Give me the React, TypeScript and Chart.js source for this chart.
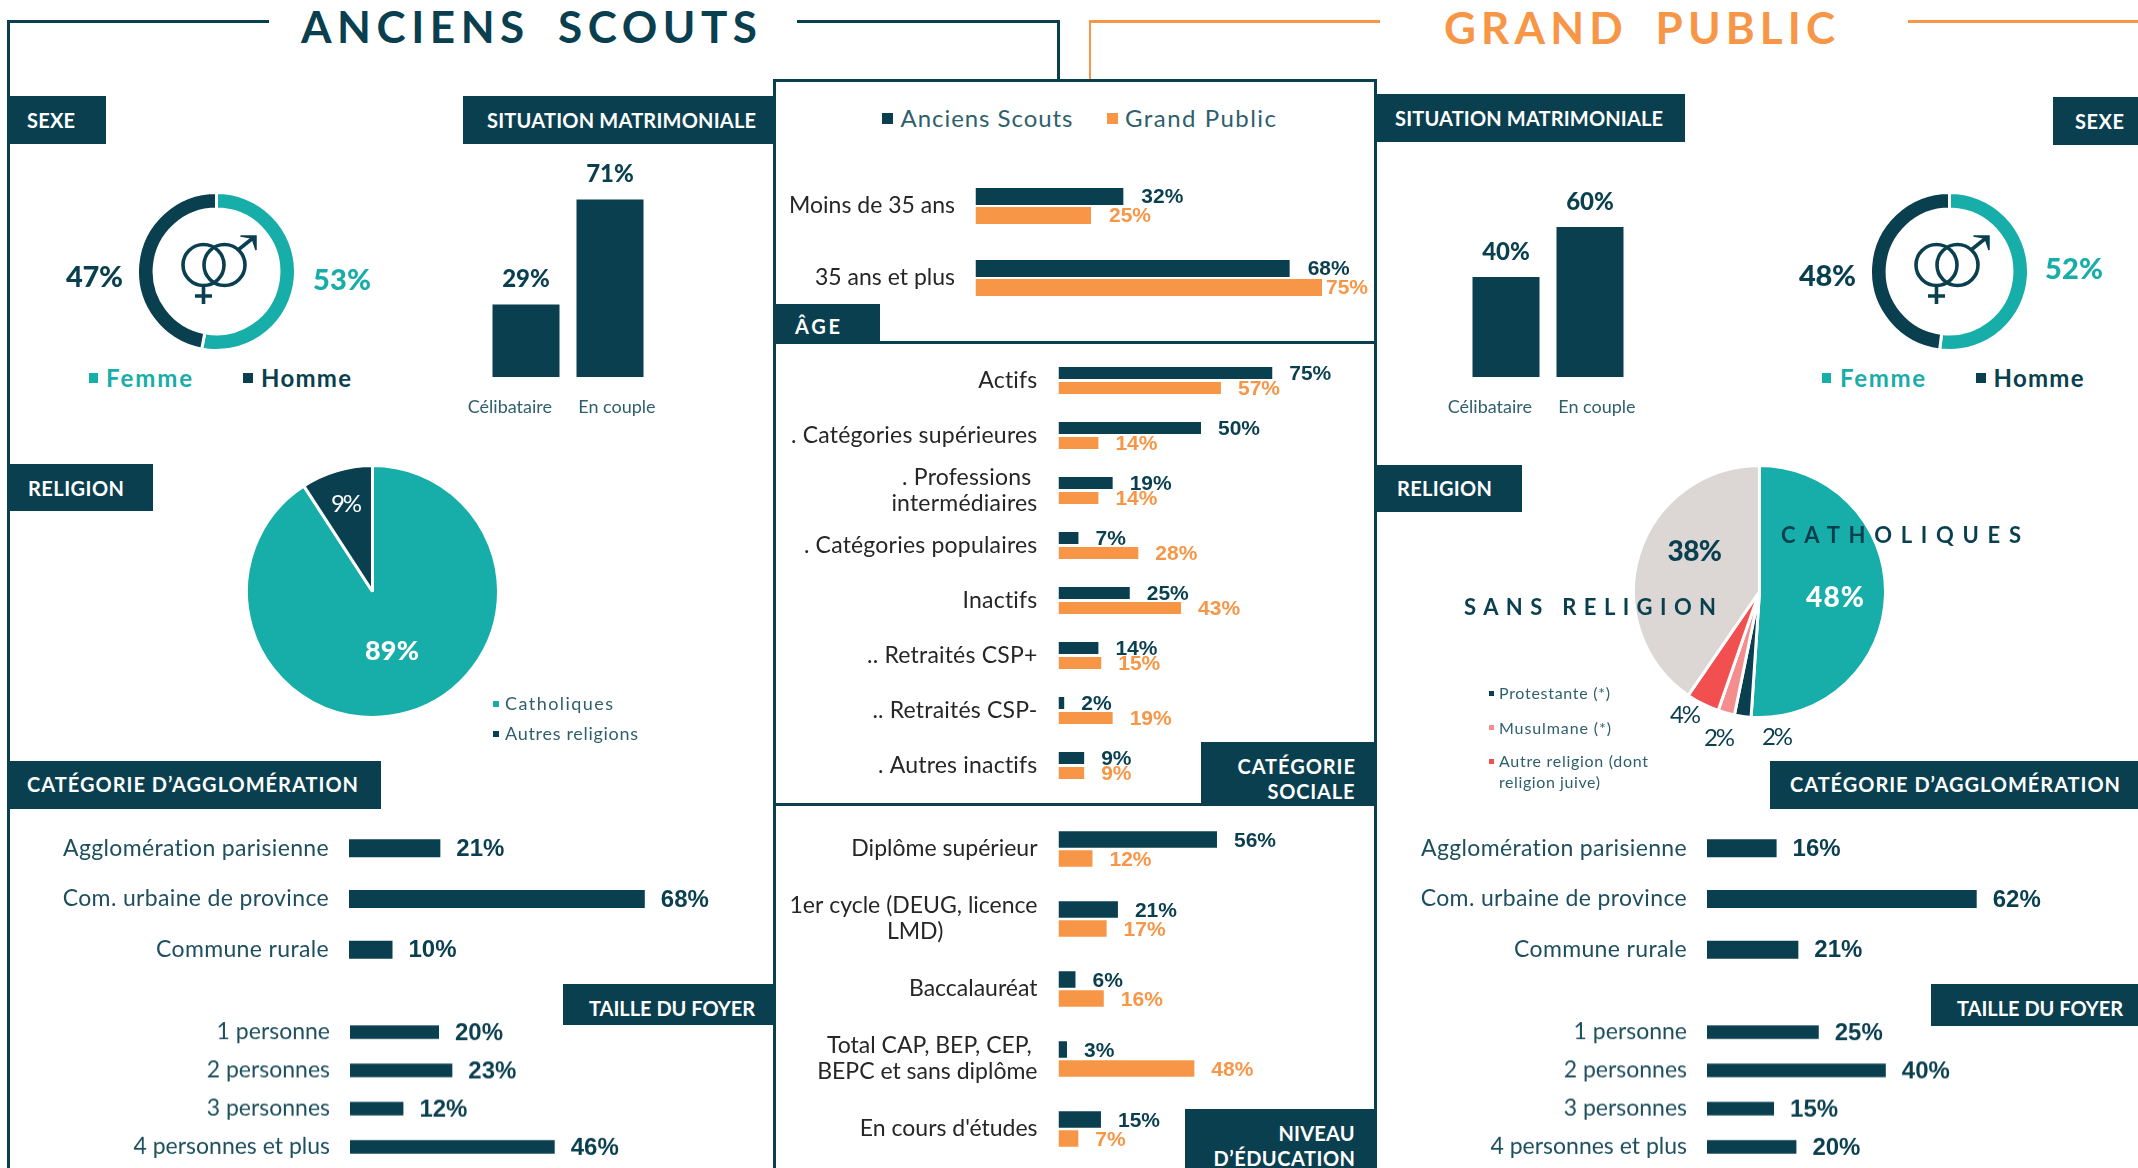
import React, { useEffect, useRef } from "react";
import { Chart, registerables } from "chart.js";
Chart.register(...registerables);

const DARK = "#0A3F4F";
const TEAL = "#17ADA8";
const ORANGE = "#F79646";
const PINK = "#F48D8D";
const RED = "#F25050";
const GREY = "#DCD7D5";
const INK = "#262626";
const SOFT = "#2F5F6D";
const TICK = "#1D4F5E";
const GEO = "Lato";
const ARIAL = "'Liberation Sans'";

// ---------- data
const sexeLabels = ["Femme", "Homme"];
const sexeScouts = [53, 47];
const sexePublic = [52, 48];
const matriLabels = ["Célibataire", "En couple"];
const matriScouts = [29, 71];
const matriPublic = [40, 60];
const religionScoutsLabels = ["Catholiques", "Autres religions"];
const religionScouts = [89, 9];
const religionPublicLabels = ["Catholiques", "Protestante (*)", "Musulmane (*)", "Autre religion (dont religion juive)", "Sans religion"];
const religionPublic = [48, 2, 2, 4, 38];
const agglomLabels = ["Agglomération parisienne", "Com. urbaine de province", "Commune rurale"];
const agglomScouts = [21, 68, 10];
const agglomPublic = [16, 62, 21];
const foyerLabels = ["1 personne", "2 personnes", "3 personnes", "4 personnes et plus"];
const foyerScouts = [20, 23, 12, 46];
const foyerPublic = [25, 40, 15, 20];
const ageLabels = ["Moins de 35 ans", "35 ans et plus"];
const ageScouts = [32, 68];
const agePublic = [25, 75];
const socialLabels: (string | string[])[] = ["Actifs", ". Catégories supérieures", [". Professions", "intermédiaires"], ". Catégories populaires", "Inactifs", ".. Retraités CSP+", ".. Retraités CSP-", ". Autres inactifs"];
const socialScouts = [75, 50, 19, 7, 25, 14, 2, 9];
const socialPublic = [57, 14, 14, 28, 43, 15, 19, 9];
const eduLabels: (string | string[])[] = ["Diplôme supérieur", ["1er cycle (DEUG, licence", "LMD)"], "Baccalauréat", ["Total CAP, BEP, CEP,", "BEPC et sans diplôme"], "En cours d'études"];
const eduScouts = [56, 21, 6, 3, 15];
const eduPublic = [12, 17, 16, 48, 7];

// ---------- helpers
const NBSP = "\u00A0";
const measureCtx = document.createElement("canvas").getContext("2d")!;
function textWidth(text: string, font: string) {
  measureCtx.font = font;
  return measureCtx.measureText(text).width;
}
function pad(width: number, font: string) {
  const n = Math.max(0, Math.round(width / textWidth(NBSP, font)));
  return NBSP.repeat(n);
}

function T({ text, x, y, w, size, weight = 400, color = DARK, family = GEO, wordGap = 0 }: any) {
  const font = `${weight} ${size}px ${family}`;
  const natural = textWidth(text, font);
  const ls = w && text.length > 1 ? (w - natural - wordGap) / (text.length - 1) : 0;
  return (
    <div
      style={{
        position: "absolute",
        left: x,
        top: y - size,
        height: size * 2,
        lineHeight: `${size * 2}px`,
        fontFamily: family,
        fontSize: size,
        fontWeight: weight,
        color,
        letterSpacing: ls,
        wordSpacing: wordGap,
        whiteSpace: "pre",
      }}
    >
      {text}
    </div>
  );
}
function Box({ x, y, w, h, color = DARK }: any) {
  return <div style={{ position: "absolute", left: x, top: y, width: w, height: h, background: color }} />;
}

function useChart(ref: any, make: () => any) {
  useEffect(() => {
    const chart = new Chart(ref.current, make());
    return () => chart.destroy();
  }, []);
}

const valueLabels = {
  id: "valueLabels",
  afterDatasetsDraw(chart: any, _a: any, o: any) {
    if (!o.font) return;
    const ctx = chart.ctx;
    ctx.save();
    ctx.font = o.font;
    ctx.textBaseline = "middle";
    chart.data.datasets.forEach((ds: any, di: number) => {
      chart.getDatasetMeta(di).data.forEach((bar: any, i: number) => {
        ctx.fillStyle = ds.labelColor || ds.backgroundColor;
        const text = `${ds.data[i]}%`;
        if (o.vertical) {
          ctx.textAlign = "center";
          ctx.fillText(text, bar.x, bar.y + o.dy);
        } else {
          ctx.textAlign = "left";
          const dx = o.dxFor && o.dxFor[di] && o.dxFor[di][i] != null ? o.dxFor[di][i] : o.dx;
          ctx.fillText(text, bar.x + dx, bar.y + o.dy);
        }
      });
    });
    ctx.restore();
  },
};

function HBar({ labels, series, left, right, base, pxPer, top, pitch, barH, gap = 0, labelRight, tickColor = TICK, tickSize = 23, tickLine = 26, valueSize = 24, valueDx = 16, valueDy = 1, dxFor, tickSpacing = 0 }: any) {
  const ref = useRef<HTMLCanvasElement>(null);
  const width = right - left;
  const height = labels.length * pitch;
  useChart(ref, () => {
    const font = `${tickSize}px ${GEO}`;
    const unit = barH + gap;
    return {
      type: "bar",
      data: {
        labels,
        datasets: series.map((s: any) => ({ data: s.values, backgroundColor: s.color, borderWidth: 0 })),
      },
      options: {
        indexAxis: "y",
        animation: false,
        responsive: false,
        events: [],
        layout: { padding: 0, autoPadding: false },
        datasets: { bar: { categoryPercentage: (unit * series.length) / pitch, barPercentage: barH / unit } },
        scales: {
          x: { display: false, min: 0, max: (right - base) / pxPer },
          y: {
            grid: { display: false, drawTicks: false },
            border: { display: false },
            afterFit: (a: any) => {
              a.width = base - left;
              a.paddingTop = 0;
              a.paddingBottom = 0;
            },
            ticks: {
              color: tickColor,
              autoSkip: false,
              padding: base - labelRight,
              font: { family: GEO, size: tickSize, lineHeight: `${tickLine}px` },
              callback: (_v: any, i: number) => {
                const l = labels[i];
                if (!Array.isArray(l)) return l;
                const widest = Math.max(...l.map((s: string) => textWidth(s, font)));
                return l.map((s: string) => s + pad((widest - textWidth(s, font)) / 2, font));
              },
            },
          },
        },
        plugins: {
          legend: { display: false },
          tooltip: { enabled: false },
          valueLabels: { font: `bold ${valueSize}px ${ARIAL}`, dx: valueDx, dy: valueDy, dxFor },
        },
      },
      plugins: [
        valueLabels,
        { id: "spacing", beforeDraw(c: any) { if (tickSpacing) c.ctx.letterSpacing = `${tickSpacing}px`; }, beforeDatasetsDraw(c: any) { c.ctx.letterSpacing = "0px"; } },
      ],
    };
  });
  return <canvas ref={ref} width={width} height={height} style={{ position: "absolute", left, top, width, height, display: "block" }} />;
}

function VBar({ left, pitch, bars, values, shift }: any) {
  const ref = useRef<HTMLCanvasElement>(null);
  const sidePad = 40;
  const top = 150;
  const areaH = 227;
  const width = pitch * 2 + sidePad * 2;
  const height = areaH + 50;
  useChart(ref, () => {
    const font = `18px ${GEO}`;
    return {
      type: "bar",
      data: { labels: matriLabels, datasets: [{ data: values, backgroundColor: DARK, borderWidth: 0 }] },
      options: {
        animation: false,
        responsive: false,
        events: [],
        layout: { padding: { left: sidePad, right: sidePad, top: 0, bottom: 0 }, autoPadding: false },
        datasets: { bar: { categoryPercentage: bars / pitch, barPercentage: 1 } },
        scales: {
          y: { display: false, min: 0, max: areaH / 2.5 },
          x: {
            grid: { display: false, drawTicks: false },
            border: { display: false },
            afterFit: (a: any) => {
              a.height = 50;
              a.paddingLeft = 0;
              a.paddingRight = 0;
            },
            ticks: {
              color: SOFT,
              autoSkip: false,
              maxRotation: 0,
              padding: 19,
              font: { family: GEO, size: 18 },
              callback: (_v: any, i: number) => {
                const s = matriLabels[i];
                const dx = shift[i];
                return dx < 0 ? s + pad(-2 * dx, font) : pad(2 * dx, font) + s;
              },
            },
          },
        },
        plugins: {
          legend: { display: false },
          tooltip: { enabled: false },
          valueLabels: { font: `900 24px ${GEO}`, vertical: true, dy: -25 },
        },
      },
      plugins: [valueLabels],
    };
  });
  return <canvas ref={ref} width={width} height={height} style={{ position: "absolute", left: left - sidePad, top, width, height, display: "block" }} />;
}

function Round({ cx, cy, size, values, labels, colors, cutout }: any) {
  const ref = useRef<HTMLCanvasElement>(null);
  useChart(ref, () => ({
    type: cutout ? "doughnut" : "pie",
    data: { labels, datasets: [{ data: values, backgroundColor: colors, borderColor: "#FFFFFF", borderWidth: 3 }] },
    options: {
      animation: false,
      responsive: false,
      events: [],
      cutout: cutout || 0,
      layout: { padding: 0 },
      plugins: { legend: { display: false }, tooltip: { enabled: false } },
    },
  }));
  return <canvas ref={ref} width={size} height={size} style={{ position: "absolute", left: cx - size / 2, top: cy - size / 2, width: size, height: size, display: "block" }} />;
}

function Symbol({ dx }: any) {
  return (
    <svg width={90} height={85} viewBox="175 228 90 85" style={{ position: "absolute", left: 175 + dx, top: 228 }} fill="none" stroke={DARK} strokeWidth={3.6}>
      <circle cx={203.5} cy={265} r={20.5} />
      <circle cx={224.5} cy={265} r={20.5} />
      <path d="M203.5 286V304M195 296H212M238 250L253 238" />
      <path d="M240.5 236H256V250L252 238Z" fill={DARK} strokeWidth={1.5} />
    </svg>
  );
}

function Sexe({ dx, values, lf, lm }: any) {
  return (
    <>
      <Round cx={216 + dx} cy={271} size={161} values={values} labels={sexeLabels} colors={[TEAL, DARK]} cutout="79%" />
      <Symbol dx={dx} />
      <T text={`${values[1]}%`} x={lm.x} y={lm.y} w={57} size={29} weight={900} color={DARK} />
      <T text={`${values[0]}%`} x={lf.x} y={lf.y} w={58} size={29} weight={900} color={TEAL} />
    </>
  );
}

function Header({ x, y, w, h, lines }: any) {
  return (
    <>
      <Box x={x} y={y} w={w} h={h} />
      {lines.map((l: any, i: number) => (
        <T key={i} text={l[0]} x={l[1]} y={l[2]} w={l[3]} size={20} weight={700} color="#FFFFFF" />
      ))}
    </>
  );
}

export default function App() {
  return (
    <div style={{ position: "absolute", left: 0, top: 0, width: 2138, height: 1168, overflow: "hidden", background: "#FFFFFF" }}>
      {/* frames */}
      <Box x={7} y={20} w={2.5} h={1148} />
      <Box x={7} y={20} w={262} h={2.5} />
      <Box x={797} y={20} w={262} h={2.5} />
      <Box x={1057} y={20} w={2.5} h={60} />
      <Box x={1089} y={20} w={291} h={2.5} color={ORANGE} />
      <Box x={1089} y={20} w={2} h={60} color={ORANGE} />
      <Box x={1908} y={20} w={230} h={2.5} color={ORANGE} />
      <Box x={773} y={79} w={2.5} h={1089} />
      <Box x={1374} y={79} w={2.5} h={1089} />
      <Box x={773} y={79} w={603} h={2.5} />
      <Box x={773} y={341} w={603} h={2.5} />
      <Box x={773} y={803} w={603} h={2.5} />

      <T text="ANCIENS SCOUTS" x={301} y={26} w={456} size={44} weight={700} color={DARK} wordGap={12} />
      <T text="GRAND PUBLIC" x={1444} y={27} w={391} size={44} weight={700} color={ORANGE} wordGap={12} />

      {/* headers */}
      <Header x={8} y={96} w={98} h={48} lines={[["SEXE", 27, 119.5, 48]]} />
      <Header x={463} y={96} w={312} h={48} lines={[["SITUATION MATRIMONIALE", 487, 119.5, 269]]} />
      <Header x={775} y={304} w={105} h={38} lines={[["ÂGE", 795, 326, 45]]} />
      <Header x={1375} y={94} w={310} h={48} lines={[["SITUATION MATRIMONIALE", 1395, 117.5, 268]]} />
      <Header x={2053} y={97} w={85} h={48} lines={[["SEXE", 2075, 120.5, 49]]} />
      <Header x={8} y={464} w={145} h={47} lines={[["RELIGION", 28, 488, 96]]} />
      <Header x={1377} y={465} w={145} h={47} lines={[["RELIGION", 1397, 488, 95]]} />
      <Header x={8} y={761} w={373} h={48} lines={[["CATÉGORIE D’AGGLOMÉRATION", 27, 784, 331]]} />
      <Header x={1770} y={761} w={368} h={48} lines={[["CATÉGORIE D’AGGLOMÉRATION", 1790, 784, 330]]} />
      <Header x={563} y={984} w={212} h={41} lines={[["TAILLE DU FOYER", 589, 1007.5, 166]]} />
      <Header x={1931} y={984} w={207} h={42} lines={[["TAILLE DU FOYER", 1957, 1008, 166]]} />
      <Header x={1201} y={742} w={174} h={63} lines={[["CATÉGORIE", 1237.5, 766, 117.5], ["SOCIALE", 1267.5, 791, 87]]} />
      <Header x={1185} y={1109} w={190} h={59} lines={[["NIVEAU", 1278.5, 1133, 76], ["D’ÉDUCATION", 1213.5, 1158, 141.5]]} />

      {/* sexe */}
      <Sexe dx={0} values={sexeScouts} lm={{ x: 66, y: 275.5 }} lf={{ x: 313, y: 279 }} />
      <Sexe dx={1733} values={sexePublic} lm={{ x: 1799, y: 274.5 }} lf={{ x: 2045, y: 268 }} />
      <Box x={88.5} y={373} w={9} h={10} color={TEAL} />
      <T text={sexeLabels[0]} x={106} y={378} w={86} size={24} weight={700} color={TEAL} />
      <Box x={243} y={373} w={10} h={10} color={DARK} />
      <T text={sexeLabels[1]} x={261} y={378} w={90} size={24} weight={700} color={DARK} />
      <Box x={1821.5} y={373} w={9} h={10} color={TEAL} />
      <T text={sexeLabels[0]} x={1840} y={378} w={85} size={24} weight={700} color={TEAL} />
      <Box x={1976} y={373} w={10} h={10} color={DARK} />
      <T text={sexeLabels[1]} x={1993.5} y={378} w={90} size={24} weight={700} color={DARK} />

      {/* situation matrimoniale */}
      <VBar left={484} pitch={84} bars={67} values={matriScouts} shift={[-15, 6]} />
      <VBar left={1464} pitch={84} bars={67} values={matriPublic} shift={[-15, 6]} />

      {/* religion scouts */}
      <Round cx={372} cy={591} size={255} values={religionScouts} labels={religionScoutsLabels} colors={[TEAL, DARK]} />
      <T text={`${religionScouts[0]}%`} x={365} y={650} w={54} size={27} weight={900} color="#FFFFFF" />
      <T text={`${religionScouts[1]}%`} x={331} y={503} w={31} size={24} color="#FFFFFF" />
      <Box x={493} y={701} w={5.5} h={5.5} color={TEAL} />
      <T text={religionScoutsLabels[0]} x={505} y={703} w={108} size={18} color={SOFT} />
      <Box x={493} y={731} w={5.5} h={5.5} color={DARK} />
      <T text={religionScoutsLabels[1]} x={505} y={733} w={133} size={18} color={SOFT} />

      {/* religion public */}
      <Round cx={1759} cy={591} size={255} values={religionPublic} labels={religionPublicLabels} colors={[TEAL, DARK, PINK, RED, GREY]} />
      <T text={`${religionPublic[0]}%`} x={1806} y={596} w={58} size={28} weight={900} color="#FFFFFF" />
      <T text={`${religionPublic[4]}%`} x={1667.5} y={550} w={54.5} size={28} weight={900} color={DARK} />
      <T text={`${religionPublic[3]}%`} x={1670} y={713.5} w={31} size={24} color={DARK} />
      <T text={`${religionPublic[2]}%`} x={1704} y={736.5} w={31} size={24} color={DARK} />
      <T text={`${religionPublic[1]}%`} x={1762} y={735.5} w={31} size={24} color={DARK} />
      <T text="CATHOLIQUES" x={1781} y={535} w={240} size={22} weight={700} color={DARK} />
      <T text="SANS RELIGION" x={1464} y={606.5} w={252} size={22} weight={700} color={DARK} />
      <Box x={1489} y={690.5} w={4.5} h={5} color={DARK} />
      <T text="Protestante (*)" x={1499} y={693} w={111} size={16} color={SOFT} />
      <Box x={1489} y={725} w={4.5} h={5} color={PINK} />
      <T text="Musulmane (*)" x={1499} y={727.5} w={112} size={16} color={SOFT} />
      <Box x={1489} y={759} w={4.5} h={5} color={RED} />
      <T text="Autre religion (dont" x={1499} y={761} w={149} size={16} color={SOFT} />
      <T text="religion juive)" x={1499} y={781.5} w={101} size={16} color={SOFT} />

      {/* agglomeration + foyer */}
      <HBar labels={agglomLabels} series={[{ values: agglomScouts, color: DARK }]} left={30} right={770} base={349} pxPer={4.35} top={822.6} pitch={50.8} barH={18} labelRight={329} tickSpacing={0.35} />
      <HBar labels={foyerLabels} series={[{ values: foyerScouts, color: DARK }]} left={30} right={770} base={350} pxPer={4.45} top={1013.4} pitch={38.2} barH={13.5} labelRight={330} />
      <HBar labels={agglomLabels} series={[{ values: agglomPublic, color: DARK }]} left={1390} right={2130} base={1707} pxPer={4.35} top={822.6} pitch={50.8} barH={18} labelRight={1687} tickSpacing={0.35} />
      <HBar labels={foyerLabels} series={[{ values: foyerPublic, color: DARK }]} left={1390} right={2130} base={1707} pxPer={4.47} top={1013.4} pitch={38.2} barH={13.5} labelRight={1687} />

      {/* centre */}
      <div style={{ position: "absolute", left: 882, top: 113, width: 10.5, height: 11, background: DARK }} />
      <T text="Anciens Scouts" x={900.5} y={118} w={172} size={24} color={SOFT} />
      <div style={{ position: "absolute", left: 1107, top: 113, width: 10.5, height: 11, background: ORANGE }} />
      <T text="Grand Public" x={1125} y={118} w={151} size={24} color={SOFT} />

      <HBar labels={ageLabels} series={[{ values: ageScouts, color: DARK }, { values: agePublic, color: ORANGE }]} left={778} right={1372} base={975.5} pxPer={4.62} top={170} pitch={72} barH={17} gap={2} labelRight={955} tickColor={INK} valueSize={21} valueDx={18} valueDy={1} dxFor={[null, [null, 4]]} />
      <HBar labels={socialLabels} series={[{ values: socialScouts, color: DARK }, { values: socialPublic, color: ORANGE }]} left={778} right={1372} base={1058.5} pxPer={2.85} top={353} pitch={55} barH={12} gap={3} labelRight={1037.5} tickColor={INK} valueSize={21} valueDx={17} valueDy={1.5} tickSpacing={0.2} />
      <HBar labels={eduLabels} series={[{ values: eduScouts, color: DARK }, { values: eduPublic, color: ORANGE }]} left={778} right={1372} base={1058.5} pxPer={2.83} top={813.5} pitch={70} barH={16.5} gap={2.5} labelRight={1037.5} tickColor={INK} valueSize={21} valueDx={17} valueDy={1.5} />
    </div>
  );
}
